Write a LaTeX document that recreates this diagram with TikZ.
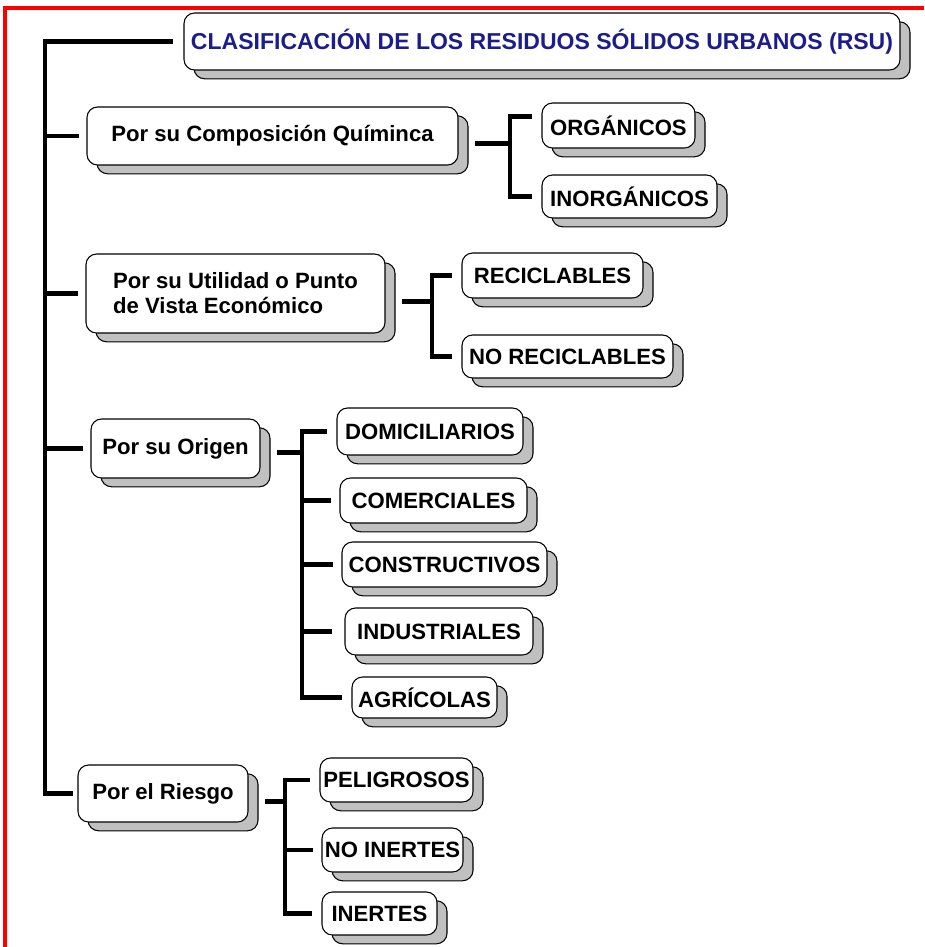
\documentclass[tikz,border=0pt]{standalone}
\usepackage{fontspec}
\setmainfont{Liberation Sans}
\usetikzlibrary{shadows}
\definecolor{azultit}{RGB}{28,28,140}
\definecolor{sombra}{RGB}{192,192,192}

\begin{document}
\begin{tikzpicture}[x=0.02cm, y=-0.02cm,
  caja/.style={draw, line width=0.6pt, fill=white, rounded corners=6pt, inner sep=0pt,
    font=\fontsize{12.6}{14.2}\selectfont\bfseries,
    drop shadow={shadow xshift=5.7pt, shadow yshift=-5pt, fill=sombra, draw=black, line width=0.6pt, opacity=1}},
  tam/.style 2 args={minimum width=#1*0.02cm, minimum height=#2*0.02cm},
  linea/.style={line width=2.8pt},
  salida/.style={linea, shorten <=9.5pt},
  rama/.style={linea, shorten <=5.5pt, shorten >=5.5pt}]
\useasboundingbox (0,0) rectangle (924,947);
\draw[red, line width=2pt] (5,947) -- (5,8) -- (924,8);

%% cajas principales
\node[caja, tam={716}{57}, text=azultit, font=\fontsize{13.1}{15}\selectfont\bfseries] (titulo) at (542,41.5) {CLASIFICACIÓN DE LOS RESIDUOS SÓLIDOS URBANOS (RSU)};
\node[caja, tam={371}{58}] (quimica) at (272.5,136) {Por su Composición Químinca};
\node[caja, tam={299}{79}, align=left] (utilidad) at (235.5,293.5) {Por su Utilidad o Punto\\de Vista Económico};
\node[caja, tam={169}{59}] (origen) at (175.5,448.5) {Por su Origen};
\node[caja, tam={170}{57}] (riesgo) at (163,793.5) {Por el Riesgo};

%% hojas
\node[caja, tam={153}{45}] (organicos) at (618.5,125.5) {ORGÁNICOS};
\node[caja, tam={175}{43}] (inorganicos) at (629.5,196.5) {INORGÁNICOS};

\node[caja, tam={181}{45}] (reciclables) at (552.5,275.5) {RECICLABLES};
\node[caja, tam={211}{43}] (noreciclables) at (567.5,356.5) {NO RECICLABLES};

\node[caja, tam={186}{47}] (domiciliarios) at (430,431.5) {DOMICILIARIOS};
\node[caja, tam={187}{45}] (comerciales) at (433.5,500.5) {COMERCIALES};
\node[caja, tam={205}{45}] (constructivos) at (444.5,564.5) {CONSTRUCTIVOS};
\node[caja, tam={188}{47}] (industriales) at (439,631.5) {INDUSTRIALES};
\node[caja, tam={145}{41}] (agricolas) at (424.5,697.5) {AGRÍCOLAS};

\node[caja, tam={153}{44}] (peligrosos) at (396.5,780) {PELIGROSOS};
\node[caja, tam={141}{44}] (noinertes) at (392.5,850) {NO INERTES};
\node[caja, tam={115}{43}] (inertes) at (379.5,913.5) {INERTES};

%% eje izquierdo
\coordinate (eje) at (45,0);
\draw[linea, shorten <=6pt, shorten >=2.3pt] (titulo.west) -- (titulo.west -| eje) |- (riesgo.west);
\draw[linea, shorten <=4pt] (quimica.west) -- (quimica.west -| eje);
\draw[linea, shorten <=4pt] (utilidad.west) -- (utilidad.west -| eje);
\draw[linea, shorten <=4pt] (origen.west) -- (origen.west -| eje);

%% composicion
\coordinate (r1) at (510,0);
\draw[salida] ([yshift=-4.5pt]quimica.east) -- ([yshift=-4.5pt]quimica.east -| r1);
\draw[rama] ([yshift=5pt]organicos.west) -- ([yshift=5pt]organicos.west -| r1) -- (inorganicos.west -| r1) -- (inorganicos.west);

%% utilidad
\coordinate (r2) at (432,0);
\draw[salida] ([yshift=-4.5pt]utilidad.east) -- ([yshift=-4.5pt]utilidad.east -| r2);
\draw[rama] (reciclables.west) -- (reciclables.west -| r2) -- (noreciclables.west -| r2) -- (noreciclables.west);

%% origen
\coordinate (r3) at (302,0);
\draw[salida] ([yshift=-2.5pt]origen.east) -- ([yshift=-2.5pt]origen.east -| r3);
\draw[rama] (domiciliarios.west) -- (domiciliarios.west -| r3) -- (agricolas.west -| r3) -- (agricolas.west);
\draw[linea, shorten >=5pt] (comerciales.west -| r3) -- (comerciales.west);
\draw[linea, shorten >=5pt] (constructivos.west -| r3) -- (constructivos.west);
\draw[linea, shorten >=7pt] (industriales.west -| r3) -- (industriales.west);

%% riesgo
\coordinate (r4) at (285,0);
\draw[salida] ([yshift=-4.5pt]riesgo.east) -- ([yshift=-4.5pt]riesgo.east -| r4);
\draw[rama] (peligrosos.west) -- (peligrosos.west -| r4) -- (inertes.west -| r4) -- (inertes.west);
\draw[linea, shorten >=5pt] (noinertes.west -| r4) -- (noinertes.west);

\end{tikzpicture}
\end{document}
